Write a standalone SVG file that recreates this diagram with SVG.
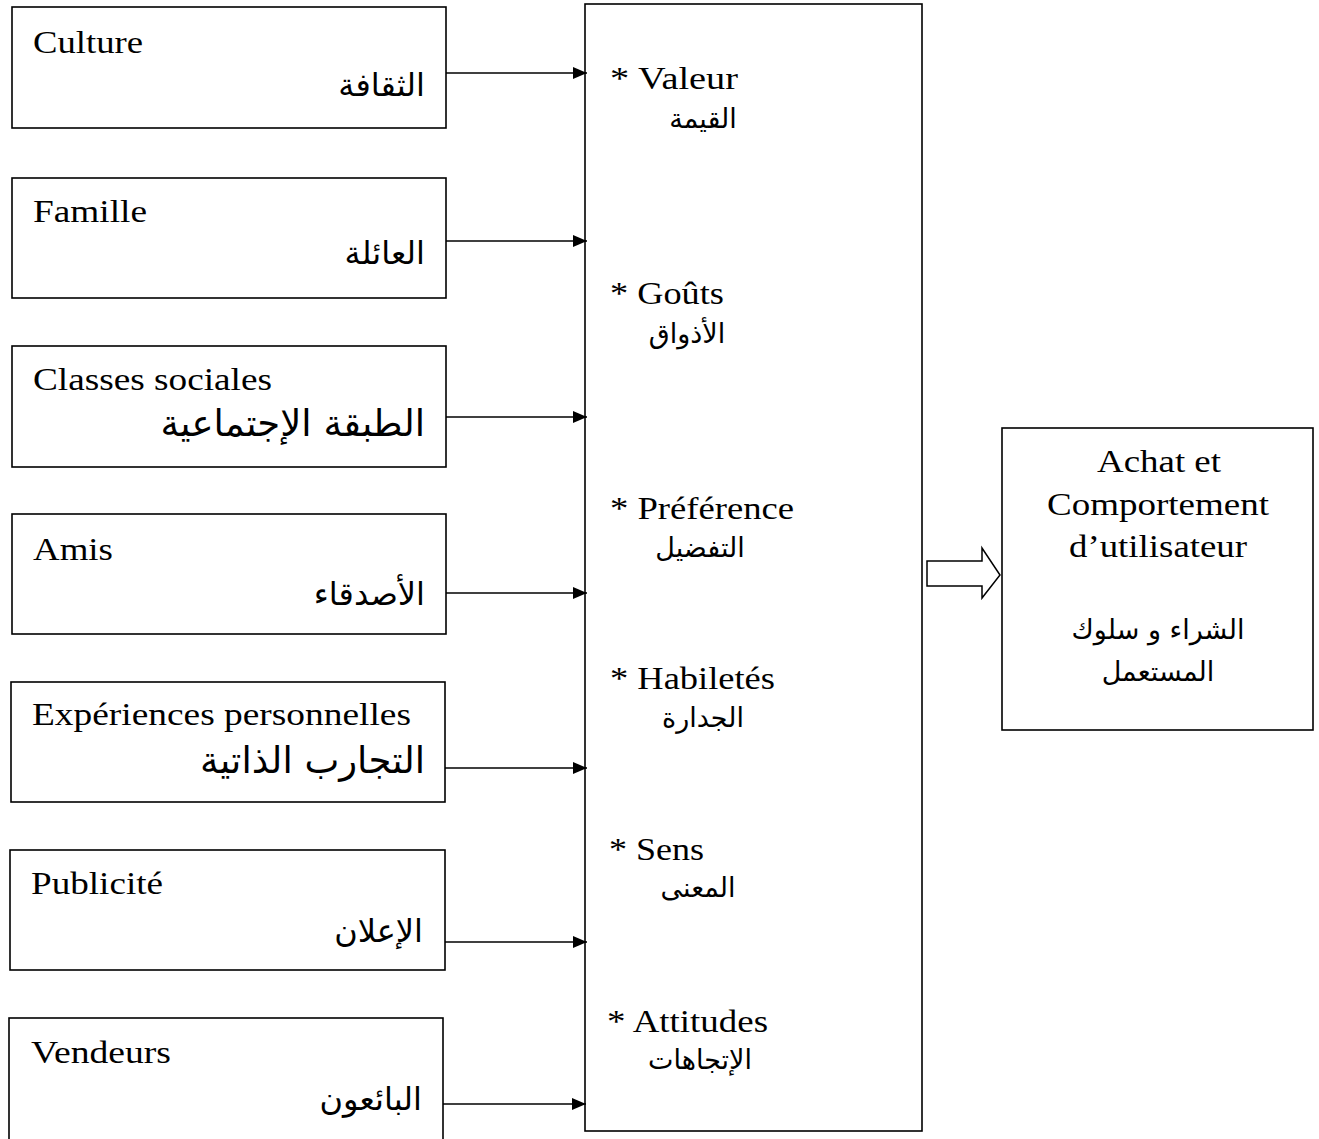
<svg xmlns="http://www.w3.org/2000/svg" width="1319" height="1139" viewBox="0 0 1319 1139">
  <style>
    .box { fill: #fff; stroke: #000; stroke-width: 1.6; }
    .lat { font-family: "Liberation Serif", "Times New Roman", serif; font-size: 31px; fill: #000; }
    .ar { font-family: "DejaVu Sans", "Noto Sans", sans-serif; font-size: 32px; fill: #000; }
    .ar-big { font-size: 37px; }
    .ar-mid { font-family: "DejaVu Sans", "Noto Sans", sans-serif; font-size: 27px; fill: #000; }
    .link { stroke: #000; stroke-width: 1.6; fill: none; }
  </style>
  <defs>
    <marker id="head" viewBox="0 0 14 12" refX="14" refY="6" markerWidth="14" markerHeight="12" markerUnits="userSpaceOnUse" orient="auto">
      <path d="M0,0 L14,6 L0,12 Z" fill="#000"/>
    </marker>
  </defs>
  <rect width="1319" height="1139" fill="#fff"/>

  <!-- influence factors -->
  <g id="culture">
    <rect class="box" x="12" y="7" width="434" height="121"/>
    <text class="lat" x="33" y="53" textLength="110" lengthAdjust="spacingAndGlyphs">Culture</text>
    <text class="ar" x="425" y="96" text-anchor="end">الثقافة</text>
  </g>
  <g id="famille">
    <rect class="box" x="12" y="178" width="434" height="120"/>
    <text class="lat" x="33" y="222" textLength="114" lengthAdjust="spacingAndGlyphs">Famille</text>
    <text class="ar" x="425" y="264" text-anchor="end">العائلة</text>
  </g>
  <g id="classes">
    <rect class="box" x="12" y="346" width="434" height="121"/>
    <text class="lat" x="33" y="390" textLength="239" lengthAdjust="spacingAndGlyphs">Classes sociales</text>
    <text class="ar ar-big" x="425" y="436" text-anchor="end">الطبقة الإجتماعية</text>
  </g>
  <g id="amis">
    <rect class="box" x="12" y="514" width="434" height="120"/>
    <text class="lat" x="33" y="560" textLength="80" lengthAdjust="spacingAndGlyphs">Amis</text>
    <text class="ar" x="425" y="605" text-anchor="end">الأصدقاء</text>
  </g>
  <g id="experiences">
    <rect class="box" x="11" y="682" width="434" height="120"/>
    <text class="lat" x="32" y="725" textLength="379" lengthAdjust="spacingAndGlyphs">Expériences personnelles</text>
    <text class="ar ar-big" x="425" y="773" text-anchor="end">التجارب الذاتية</text>
  </g>
  <g id="publicite">
    <rect class="box" x="10" y="850" width="435" height="120"/>
    <text class="lat" x="31" y="894" textLength="132" lengthAdjust="spacingAndGlyphs">Publicité</text>
    <text class="ar" x="423" y="942" text-anchor="end">الإعلان</text>
  </g>
  <g id="vendeurs">
    <rect class="box" x="9" y="1018" width="434" height="125"/>
    <text class="lat" x="31" y="1063" textLength="140" lengthAdjust="spacingAndGlyphs">Vendeurs</text>
    <text class="ar" x="422" y="1110" text-anchor="end">البائعون</text>
  </g>

  <!-- internal factors -->
  <g id="facteurs">
    <rect class="box" x="585" y="4" width="337" height="1127"/>
    <text class="lat" x="610" y="89" textLength="128" lengthAdjust="spacingAndGlyphs">* Valeur</text>
    <text class="ar-mid" x="703" y="128" text-anchor="middle">القيمة</text>
    <text class="lat" x="610" y="304" textLength="114" lengthAdjust="spacingAndGlyphs">* Goûts</text>
    <text class="ar-mid" x="687" y="343" text-anchor="middle">الأذواق</text>
    <text class="lat" x="610" y="519" textLength="184" lengthAdjust="spacingAndGlyphs">* Préférence</text>
    <text class="ar-mid" x="700" y="557" text-anchor="middle">التفضيل</text>
    <text class="lat" x="610" y="689" textLength="165" lengthAdjust="spacingAndGlyphs">* Habiletés</text>
    <text class="ar-mid" x="703" y="727" text-anchor="middle">الجدارة</text>
    <text class="lat" x="609" y="860" textLength="95" lengthAdjust="spacingAndGlyphs">* Sens</text>
    <text class="ar-mid" x="698" y="897" text-anchor="middle">المعنى</text>
    <text class="lat" x="607" y="1032" textLength="161" lengthAdjust="spacingAndGlyphs">* Attitudes</text>
    <text class="ar-mid" x="700" y="1069" text-anchor="middle">الإتجاهات</text>
  </g>

  <!-- outcome -->
  <g id="achat">
    <rect class="box" x="1002" y="428" width="311" height="302"/>
    <text class="lat" x="1159" y="472" text-anchor="middle" textLength="124" lengthAdjust="spacingAndGlyphs">Achat et</text>
    <text class="lat" x="1158" y="515" text-anchor="middle" textLength="222" lengthAdjust="spacingAndGlyphs">Comportement</text>
    <text class="lat" x="1158" y="557" text-anchor="middle" textLength="178" lengthAdjust="spacingAndGlyphs">d’utilisateur</text>
    <text class="ar-mid" x="1158" y="639" text-anchor="middle">الشراء و سلوك</text>
    <text class="ar-mid" x="1158" y="681" text-anchor="middle">المستعمل</text>
  </g>

  <g id="connectors">
    <line class="link" x1="446" y1="73" x2="587" y2="73" marker-end="url(#head)"/>
    <line class="link" x1="446" y1="241" x2="587" y2="241" marker-end="url(#head)"/>
    <line class="link" x1="446" y1="417" x2="587" y2="417" marker-end="url(#head)"/>
    <line class="link" x1="446" y1="593" x2="587" y2="593" marker-end="url(#head)"/>
    <line class="link" x1="445" y1="768" x2="587" y2="768" marker-end="url(#head)"/>
    <line class="link" x1="445" y1="942" x2="587" y2="942" marker-end="url(#head)"/>
    <line class="link" x1="443" y1="1104" x2="586" y2="1104" marker-end="url(#head)"/>
    <!-- hollow block arrow to the outcome box -->
    <path d="M927,561 L982,561 L982,548 L1000,575 L982,598 L982,586 L927,586 Z" fill="#fff" stroke="#000" stroke-width="1.5" stroke-linejoin="miter"/>
  </g>
</svg>
